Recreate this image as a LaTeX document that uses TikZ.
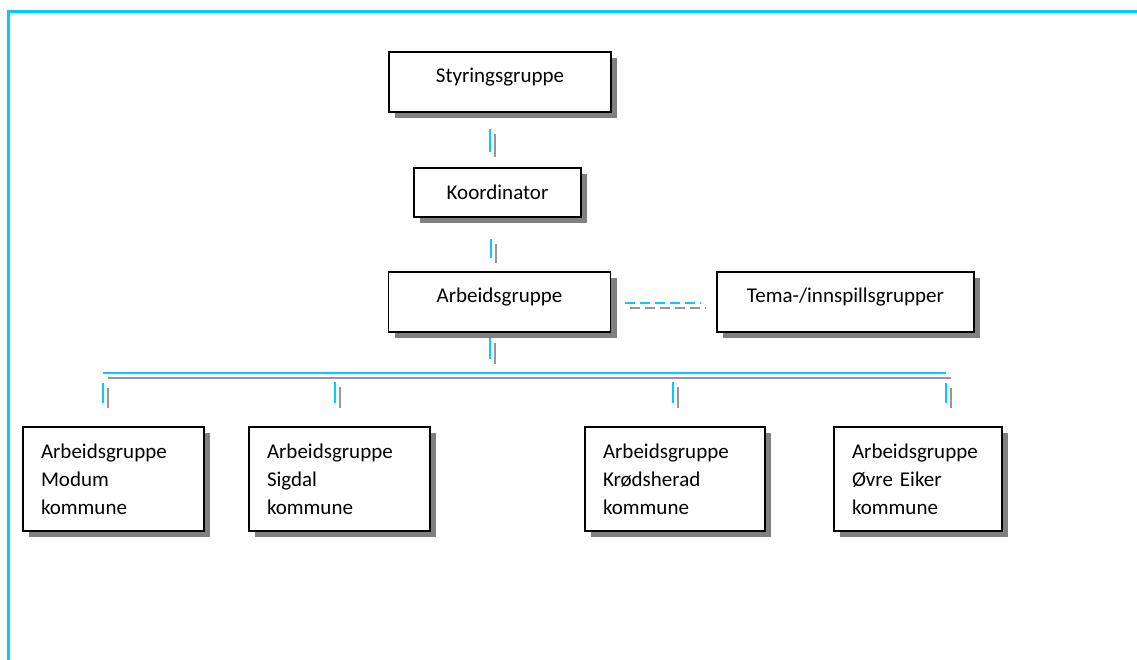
\documentclass[tikz,border=0pt]{standalone}
\usepackage{fontspec}
\setmainfont{Carlito}
\usetikzlibrary{shapes}
\usetikzlibrary{shadows}
\definecolor{framecyan}{RGB}{0,204,255}
\definecolor{linkgray}{RGB}{150,150,150}
\definecolor{shadegray}{RGB}{128,128,128}
\begin{document}
\begin{tikzpicture}[x=1pt,y=-1pt]
			\tikzstyle{box}=[rectangle,draw=black,line width=1.5pt,fill=white,font=\fontsize{21}{28}\selectfont,drop shadow={shadow xshift=6pt,shadow yshift=-6pt,fill=shadegray,opacity=1}]
			\tikzstyle{top}=[box,minimum height=60pt,inner sep=0pt,text height=14pt,text depth=14pt]
			\tikzstyle{muni}=[box,align=left,minimum height=104pt,inner xsep=18pt,inner ysep=0pt]
			\tikzstyle{link}=[framecyan,line width=1.6pt]
			\tikzstyle{shade}=[linkgray,line width=1.6pt,transform canvas={shift={(5pt,-5pt)}}]
			
			\useasboundingbox (0,0) rectangle (1137,659);
			\draw[framecyan,line width=2.6pt] (8.7,680) -- (8.7,11.5) -- (1160,11.5);
			
			\node[top,minimum width=222pt] (styr) at (500,82) {Styringsgruppe};
			\node[top,minimum width=167pt,minimum height=49pt,text depth=0pt] (koord) at (497.5,192.5) {Koordinator};
			\node[top,minimum width=222pt] (arb) at (499.5,302) {Arbeidsgruppe};
			\node[top,minimum width=257pt] (tema) at (845.5,302) {Tema-/innspillsgrupper};
			
			\node[muni,text width=145pt] (modum) at (113.5,479) {Arbeidsgruppe\\Modum\\kommune};
			\node[muni,text width=145pt] (sigdal) at (339.5,479) {Arbeidsgruppe\\Sigdal\\kommune};
			\node[muni,text width=144pt] (krod) at (675,479) {Arbeidsgruppe\\Krødsherad\\kommune};
			\node[muni,text width=132pt] (ovre) at (918,479) {Arbeidsgruppe\\Øvre Eiker\\kommune};
			
			\coordinate (busL) at (103,373);
			\coordinate (busR) at (946,373);
			
			\foreach \s in {shade,link}{
				\draw[\s] ([xshift=-10pt,yshift=-16pt]styr.south) -- ([xshift=-7.5pt,yshift=15pt]koord.north);
				\draw[\s] ([xshift=-6.5pt,yshift=-21pt]koord.south) -- ([xshift=-8.5pt,yshift=13pt]arb.north);
				\draw[\s,dash pattern=on 10pt off 5pt] ([xshift=14pt,yshift=-1pt]arb.east) -- ([xshift=-15pt,yshift=-1pt]tema.west);
				\draw[\s] ([xshift=-9.5pt,yshift=-5pt]arb.south) -- ([xshift=-9.5pt,yshift=-26pt]arb.south);
				\draw[\s] (busL) -- (busR);
				\draw[\s] ([yshift=-10pt]busL) -- ([xshift=-10.5pt,yshift=23pt]modum.north);
				\draw[\s] ([xshift=-4.5pt,yshift=44pt]sigdal.north) -- ([xshift=-4.5pt,yshift=23pt]sigdal.north);
				\draw[\s] ([xshift=-2pt,yshift=44pt]krod.north) -- ([xshift=-2pt,yshift=23pt]krod.north);
				\draw[\s] ([yshift=-10pt]busR) -- ([xshift=28pt,yshift=23pt]ovre.north);
			}
\end{tikzpicture}
\end{document}
